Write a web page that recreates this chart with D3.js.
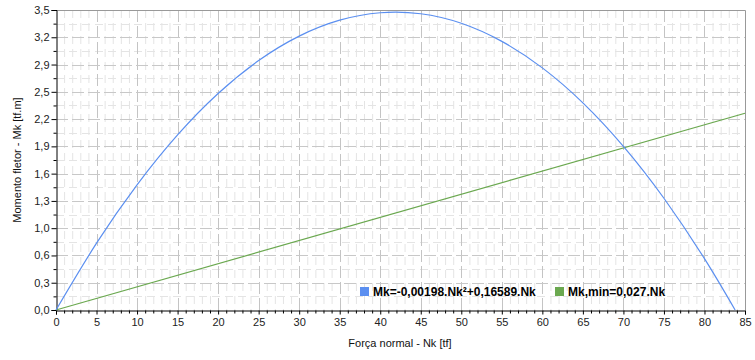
<!DOCTYPE html>
<html><head><meta charset="utf-8">
<script src="https://cdn.jsdelivr.net/npm/d3@7"></script>
<style>
body{margin:0;background:#fff;}
text{font-family:"Liberation Sans",Arial,sans-serif;}
</style></head>
<body><svg id="c" width="755" height="360"></svg>
<script>
// Data
const nkBlue = [0,5,10,15,20,25,30,35,40,45,50,55,60,65,70,75,80,83.78];
const mkBlue = [0,0.780,1.461,2.043,2.526,2.910,3.195,3.381,3.468,3.456,3.345,3.134,2.825,2.417,1.910,1.304,0.599,0];
const nkGreen = [0,85];
const mkGreen = [0,2.295];
const xTicks = [0,5,10,15,20,25,30,35,40,45,50,55,60,65,70,75,80,85];
const yTickCount = 11;
const yMax = 3.5;
const seriesNames = ["Mk=-0,00198.Nk\u00b2+0,16589.Nk","Mk,min=0,027.Nk"];
const seriesColors = ["#5b8ff0","#6aa84f"];

const svg = d3.select("#c");
const L=56,R=745,T=10,B=310;
const x = d3.scaleLinear().domain([0,85]).range([L,R]);
const y = d3.scaleLinear().domain([0,yMax]).range([B,T]);
const yTicks = d3.range(yTickCount+1).map(i=>i*yMax/yTickCount);
const yMinor = d3.range(yTickCount).map(i=>(i+0.5)*yMax/yTickCount);
const xMinor = d3.range(0,86,1).filter(v=>v%5!==0);
const fmt = v => v.toFixed(1).replace(".",",");

const g = svg.append("g");
// minor grid
g.selectAll(".vmin").data(xMinor).join("line")
 .attr("x1",d=>x(d)+0.5).attr("x2",d=>x(d)+0.5).attr("y1",T).attr("y2",B)
 .attr("stroke","#e4e4e4").attr("stroke-dasharray","8,5");
g.selectAll(".hmin").data(yMinor).join("line")
 .attr("y1",d=>Math.round(y(d))+0.5).attr("y2",d=>Math.round(y(d))+0.5).attr("x1",L).attr("x2",R)
 .attr("stroke","#e4e4e4").attr("stroke-dasharray","8,5");
// major grid
g.selectAll(".vmaj").data(xTicks.slice(1,-1)).join("line")
 .attr("x1",d=>Math.round(x(d))+0.5).attr("x2",d=>Math.round(x(d))+0.5).attr("y1",T).attr("y2",B)
 .attr("stroke","#c4c4c4").attr("stroke-dasharray","12,4");
g.selectAll(".hmaj").data(yTicks.slice(1,-1)).join("line")
 .attr("y1",d=>Math.round(y(d))+0.5).attr("y2",d=>Math.round(y(d))+0.5).attr("x1",L).attr("x2",R)
 .attr("stroke","#c8c8c8").attr("stroke-dasharray","12,4");

// border top/right
svg.append("path").attr("d",`M${L},${T+0.5}H${R+0.5}V${B}`).attr("fill","none").attr("stroke","#999");

// axes
const yAxis = d3.axisLeft(y).tickValues(yTicks).tickFormat(fmt).tickSize(5).tickPadding(2);
const ya = svg.append("g").attr("transform",`translate(${L+0.5},0)`).call(yAxis);
ya.selectAll("path.domain").attr("stroke","#000");
ya.selectAll("text").attr("font-size",11).attr("fill","#222");
const yAxisMin = d3.axisLeft(y).tickValues(yMinor).tickFormat("").tickSize(3);
svg.append("g").attr("transform",`translate(${L+0.5},0)`).call(yAxisMin).select(".domain").remove();

const xAxis = d3.axisBottom(x).tickValues(xTicks).tickSize(4).tickPadding(3);
const xa = svg.append("g").attr("transform",`translate(0,${B+0.5})`).call(xAxis);
xa.selectAll("path.domain").attr("stroke","#000");
xa.selectAll("text").attr("font-size",11).attr("fill","#222").attr("dy","0.75em");
const xAxisMin = d3.axisBottom(x).tickValues(xMinor).tickFormat("").tickSize(3);
svg.append("g").attr("transform",`translate(0,${B+0.5})`).call(xAxisMin).select(".domain").remove();

// axis titles
svg.append("text").attr("x",400).attr("y",347).attr("text-anchor","middle").attr("font-size",11).attr("fill","#111").text("Força normal - Nk [tf]");
svg.append("text").attr("transform",`translate(21,${(T+B)/2}) rotate(-90)`).attr("text-anchor","middle").attr("font-size",11).attr("fill","#111").text("Momento fletor - Mk [tf.m]");

// lines
const clip = svg.append("clipPath").attr("id","cp").append("rect").attr("x",L).attr("y",T-2).attr("width",R-L).attr("height",B-T+2);
const line = d3.line().x(d=>x(d[0])).y(d=>y(d[1]));
svg.append("path").datum(nkGreen.map((v,i)=>[v,mkGreen[i]]))
 .attr("d",line).attr("fill","none").attr("stroke",seriesColors[1]).attr("stroke-width",1.2);
svg.append("path").datum(nkBlue.map((v,i)=>[v,mkBlue[i]]))
 .attr("d",line.curve(d3.curveNatural)).attr("fill","none").attr("stroke",seriesColors[0]).attr("stroke-width",1.2);

// legend
const legX=[360,555];
seriesNames.forEach((n,i)=>{
  svg.append("rect").attr("x",legX[i]).attr("y",287).attr("width",9).attr("height",9).attr("fill",seriesColors[i]);
  svg.append("text").attr("x",legX[i]+13).attr("y",296).attr("font-size",12).attr("font-weight","bold").attr("fill","#000").text(n);
});
</script></body></html>
